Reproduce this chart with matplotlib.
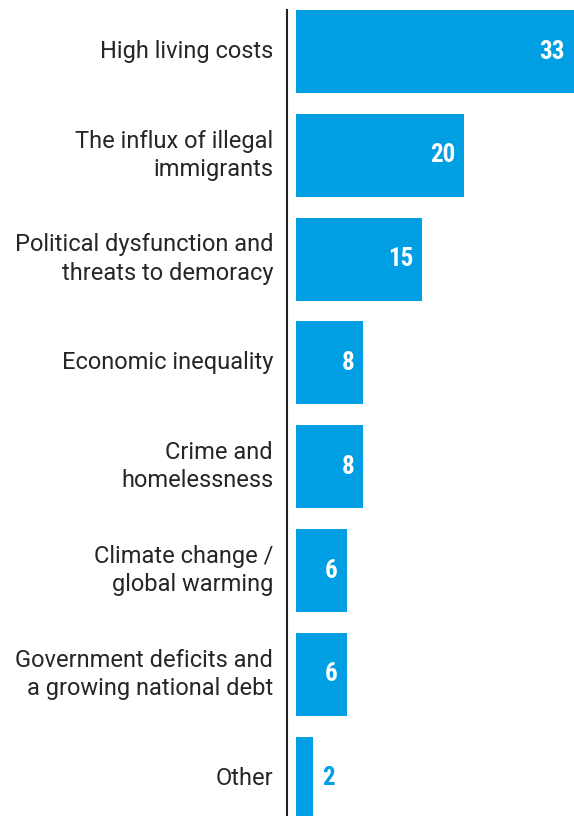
import matplotlib.pyplot as plt
import numpy as np

categories = ["High living costs",
              "The influx of illegal\nimmigrants",
              "Political dysfunction and\nthreats to demoracy",
              "Economic inequality",
              "Crime and\nhomelessness",
              "Climate change /\nglobal warming",
              "Government deficits and\na growing national debt",
              "Other"]
values = [33, 20, 15, 8, 8, 6, 6, 2]

blue = "#009fe3"
W, H = 574, 816

fig = plt.figure(figsize=(W / 100, H / 100), dpi=100)
ax = fig.add_axes([296 / W, 0, 1 - 296 / W, (H - 10) / H])

y = np.arange(len(categories))
ax.barh(y, values, height=0.8, color=blue)
ax.set_xlim(0, 33)
ax.set_ylim(7.365, -0.4)
ax.set_xticks([])
ax.set_yticks([])

for s in ["top", "right", "bottom"]:
    ax.spines[s].set_visible(False)
ax.spines["left"].set_position(("outward", 6.8))
ax.spines["left"].set_linewidth(1.5)
ax.spines["left"].set_color("#222222")

# category labels, right aligned left of the axis line
for yi, lab in zip(y, categories):
    ax.annotate(lab, (0, yi), xytext=(-16.5, 0), textcoords="offset points",
                ha="right", va="center", multialignment="right",
                fontsize=17, color="#262626", linespacing=1.3,
                family=["Roboto", "DejaVu Sans"])

num_font = dict(fontsize=18, fontweight="bold", fontstretch="condensed",
                family=["Roboto Condensed", "DejaVu Sans"])
for yi, v in zip(y, values):
    if v >= 5:
        ax.annotate(str(v), (v, yi), xytext=(-6.5, 0), textcoords="offset points",
                    ha="right", va="center", color="white", **num_font)
    else:
        ax.annotate(str(v), (v, yi), xytext=(7, 0), textcoords="offset points",
                    ha="left", va="center", color=blue, **num_font)

fig.savefig("out.png", dpi=100)
